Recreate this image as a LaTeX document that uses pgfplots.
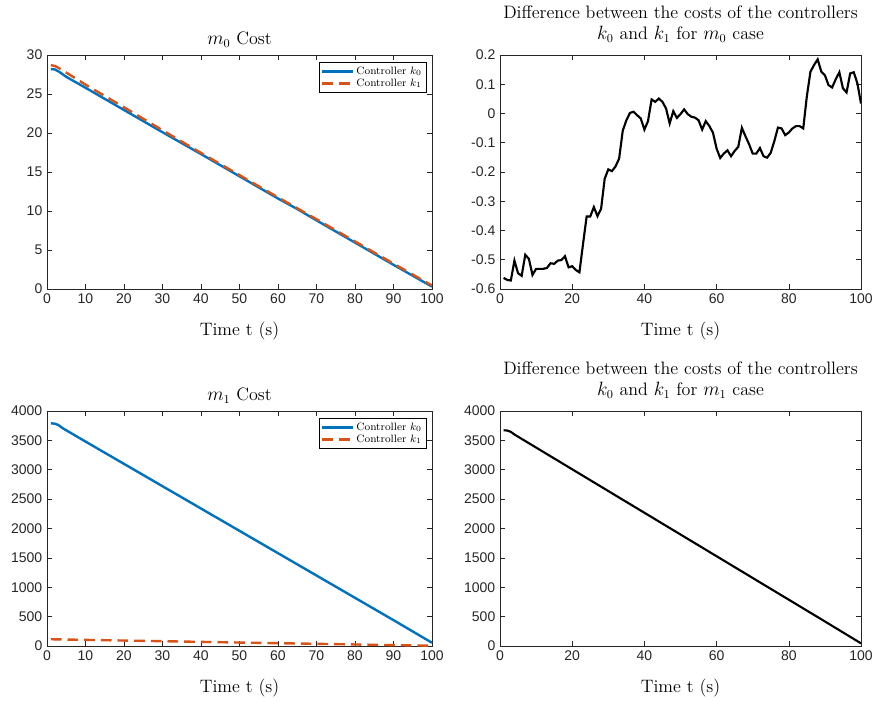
\documentclass[border=0pt]{standalone}
\usepackage{pgfplots}
\pgfplotsset{compat=1.18}
\usepackage{fontspec}
\newfontfamily\ticksf{Liberation Sans}
\definecolor{mblue}{rgb}{0,0.447,0.741}
\definecolor{morange}{rgb}{0.85,0.325,0.098}
\pgfplotsset{
  mstyle/.style={
    scale only axis, anchor=south west,
    xmin=0, xmax=100,
    axis line style={black!85},
    tick align=inside, tick style={black!85, thin}, major tick length=4pt,
    tick label style={font=\ticksf\fontsize{10.5}{12}\selectfont, color=black!85},
    /pgf/number format/assume math mode=true,
    /pgf/number format/1000 sep={},
    scaled ticks=false,
    title style={font=\fontsize{13.5}{16}\selectfont, align=center},
    label style={font=\fontsize{13.5}{16}\selectfont},
    xlabel style={yshift=-7pt},
    xlabel={Time t (s)},
    legend style={font=\fontsize{8}{9.5}\selectfont, at={(0.985,0.97)}, anchor=north east,
      draw=black, inner sep=1.2pt, row sep=-2pt},
    legend cell align=left,
    legend image code/.code={\draw[##1] (0cm,0cm) -- (0.8cm,0cm);},
  },
  onetitle/.style={title style={yshift=-4pt}},
  k0/.style={color=mblue, line width=1.8pt},
  k1/.style={color=morange, line width=1.8pt, dash pattern=on 8pt off 4.5pt},
}
\begin{document}
\begin{tikzpicture}
\useasboundingbox (0,0) rectangle (659.25pt,525.75pt);

% top left: m0 cost
\begin{axis}[mstyle, onetitle, at={(35.25pt,309pt)}, width=288.75pt, height=175.5pt,
  ymin=0, ymax=30, xtick={0,10,...,100}, ytick={0,5,...,30},
  title={$m_0$ Cost}]
\addplot[k0] coordinates {
(1,28.2) (2,28.15) (3,27.9) (4,27.55) (5,27.2) (10,25.8) (20,22.95) (30,20.1)
(40,17.3) (50,14.45) (60,11.6) (65,10.25) (70,8.8) (80,5.95) (90,3.1) (100,0.3)
};
\addlegendentry{Controller $k_0$}
\addplot[k1] coordinates {
(1,28.7) (2,28.6) (3,28.35) (5,27.75) (10,26.2) (20,23.3) (30,20.35)
(40,17.45) (50,14.6) (60,11.75) (70,8.95) (80,6.1) (90,3.25) (100,0.45)
};
\addlegendentry{Controller $k_1$}
\end{axis}

% top right: difference m0
\begin{axis}[mstyle, at={(375pt,309pt)}, width=270.75pt, height=175.5pt,
  ymin=-0.6, ymax=0.2, xtick={0,20,...,100},
  ytick={-0.6,-0.5,-0.4,-0.3,-0.2,-0.1,0,0.1,0.2},
  title={Difference between the costs of the controllers\\$k_0$ and $k_1$ for $m_0$ case}]
\addplot[black, line width=1.6pt] coordinates {
(1,-0.562) (2,-0.569) (3,-0.571) (4,-0.503) (5,-0.546) (6,-0.555) (7,-0.483) (8,-0.497)
(9,-0.552) (10,-0.531) (11,-0.531) (12,-0.531) (13,-0.528) (14,-0.512) (15,-0.514)
(16,-0.503) (17,-0.501) (18,-0.488) (19,-0.526) (20,-0.522) (21,-0.535) (22,-0.543)
(23,-0.446) (24,-0.352) (25,-0.352) (26,-0.320) (27,-0.351) (28,-0.326) (29,-0.223)
(30,-0.191) (31,-0.197) (32,-0.181) (33,-0.154) (34,-0.059) (35,-0.023) (36,0.002)
(37,0.006) (38,-0.006) (39,-0.017) (40,-0.055) (41,-0.026) (42,0.048) (43,0.040)
(44,0.051) (45,0.040) (46,0.017) (47,-0.034) (48,0.008) (49,-0.015) (50,-0.002)
(51,0.014) (52,-0.002) (53,-0.011) (54,-0.014) (55,-0.023) (56,-0.055) (57,-0.026)
(58,-0.043) (59,-0.066) (60,-0.120) (61,-0.152) (62,-0.137) (63,-0.126) (64,-0.146)
(65,-0.128) (66,-0.114) (67,-0.049) (68,-0.078) (69,-0.105) (70,-0.137) (71,-0.137)
(72,-0.118) (73,-0.146) (74,-0.151) (75,-0.134) (76,-0.094) (77,-0.048) (78,-0.051)
(79,-0.074) (80,-0.065) (81,-0.051) (82,-0.043) (83,-0.043) (84,-0.051) (85,0.059)
(86,0.143) (87,0.166) (88,0.185) (89,0.143) (90,0.131) (91,0.097) (92,0.089)
(93,0.117) (94,0.141) (95,0.086) (96,0.072) (97,0.137) (98,0.141) (99,0.103) (100,0.034)
};
\end{axis}

% bottom left: m1 cost
\begin{axis}[mstyle, onetitle, at={(35.25pt,41.25pt)}, width=288.75pt, height=176.25pt,
  ymin=0, ymax=4000, xtick={0,10,...,100}, ytick={0,500,...,4000},
  title={$m_1$ Cost}]
\addplot[k0] coordinates {
(1,3790) (2,3785) (3,3760) (4,3710) (5,3672) (10,3480) (20,3100) (30,2720)
(40,2340) (50,1960) (60,1580) (70,1200) (80,820) (90,440) (100,55)
};
\addlegendentry{Controller $k_0$}
\addplot[k1] coordinates {
(1,115) (10,104) (20,93) (30,82) (40,70) (50,59) (60,48) (70,37) (80,26) (90,15) (100,5)
};
\addlegendentry{Controller $k_1$}
\end{axis}

% bottom right: difference m1
\begin{axis}[mstyle, at={(375pt,41.25pt)}, width=270.75pt, height=176.25pt,
  ymin=0, ymax=4000, xtick={0,20,...,100}, ytick={0,500,...,4000},
  title={Difference between the costs of the controllers\\$k_0$ and $k_1$ for $m_1$ case}]
\addplot[black, line width=1.6pt] coordinates {
(1,3672) (2,3668) (3,3645) (4,3600) (5,3563) (10,3378) (20,3008) (30,2638)
(40,2268) (50,1898) (60,1528) (70,1158) (80,788) (90,418) (100,45)
};
\end{axis}
\end{tikzpicture}
\end{document}
